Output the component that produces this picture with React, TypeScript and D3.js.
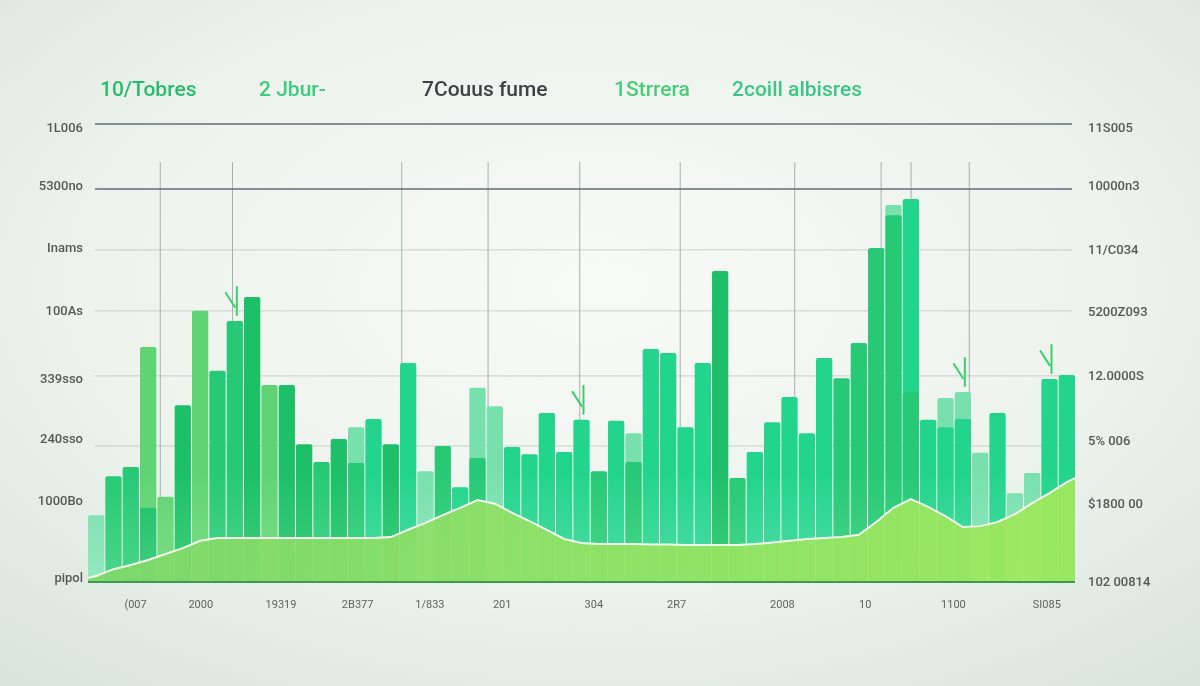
import React from 'react';
import * as d3 from 'd3';

const W = 1200;
const H = 686;

// ---- data ----
const legendLabels = ['10/Tobres', '2 Jbur-', '7Couus fume', '1Strrera', '2coill albisres'];
const legendColors = ['#2bbb6c', '#3ccd7c', '#3d4246', '#4acd78', '#3cc784'];

const leftTickLabels = ['1L006', '5300no', 'Inams', '100As', '339sso', '240sso', '1000Bo', 'pipol'];
const leftTickValues = [99.3, 86.5, 73.1, 59.2, 44.5, 31.4, 17.7, 0.9];
const rightTickLabels = ['11S005', '10000n3', '11/C034', '5200Z093', '12.0000S', '5% 006', '$1800 00', '102 00814'];
const rightTickValues = [99.3, 86.5, 72.7, 59.0, 45.0, 31.0, 17.2, 0.2];

const xTickLabels = ['(007', '2000', '19319', '2B377', '1/833', '201', '304', '2R7', '2008', '10', '1100', 'SI085'];
const xTickPos = [2.7, 6.4, 10.95, 15.3, 19.4, 23.5, 28.7, 33.4, 39.4, 44.1, 49.1, 54.4];

const gridMajor = [100, 85.8];
const gridMinor = [72.5, 59.2, 45.0, 29.7];
const gridVertical = [4.1, 8.2, 17.8, 22.7, 27.9, 33.6, 40.1, 45.0, 46.7, 50.0];

const barFront = [
  14.6, 23.1, 25.1, 16.2, 18.6, 38.6, 59.2, 46.1, 57.0, 62.2,
  43.0, 43.0, 30.1, 26.2, 31.2, 26.0, 35.6, 30.1, 47.8, 24.2,
  29.7, 20.7, 27.1, 38.4, 29.5, 27.9, 36.9, 28.4, 35.4, 24.2,
  35.2, 26.2, 50.9, 50.0, 33.8, 47.8, 67.9, 22.7, 28.4, 34.9,
  40.4, 32.5, 48.9, 44.5, 52.2, 72.9, 80.1, 41.5, 35.4, 33.8,
  35.6, 28.2, 36.9, 19.4, 23.8, 44.3, 45.2,
];
const barBack = [
  0, 0, 0, 51.3, 0, 0, 0, 0, 0, 0,
  0, 0, 0, 0, 0, 33.8, 0, 0, 0, 0,
  0, 0, 42.4, 0, 0, 0, 0, 0, 0, 0,
  0, 32.5, 0, 0, 0, 0, 0, 0, 0, 0,
  0, 0, 0, 0, 0, 0, 82.3, 83.6, 0, 40.2,
  41.5, 0, 0, 0, 0, 0, 0,
];
const frontShade = [
  4, 1, 1, 0, 2, 0, 2, 1, 1, 0,
  2, 0, 0, 1, 0, 1, 3, 0, 3, 4,
  1, 3, 1, 4, 3, 3, 3, 3, 3, 1,
  3, 1, 3, 3, 3, 3, 0, 1, 3, 3,
  3, 3, 3, 1, 1, 1, 1, 1, 3, 3,
  3, 4, 3, 4, 4, 3, 3,
];
const backShade = [
  0, 0, 0, 2, 0, 0, 0, 0, 0, 0,
  0, 0, 0, 0, 0, 4, 0, 0, 0, 0,
  0, 0, 4, 0, 0, 0, 0, 0, 0, 0,
  0, 4, 0, 0, 0, 0, 0, 0, 0, 0,
  0, 0, 0, 0, 0, 0, 4, 3, 0, 4,
  4, 0, 0, 0, 0, 0, 0,
];
const areaValues = [
  1.3, 2.8, 3.7, 4.8, 6.1, 7.4, 9.0, 9.6, 9.6, 9.6,
  9.6, 9.6, 9.6, 9.6, 9.6, 9.6, 9.6, 9.8, 11.4, 12.9,
  14.6, 16.2, 17.9, 17.1, 15.1, 13.3, 11.4, 9.4, 8.5, 8.3,
  8.3, 8.3, 8.2, 8.2, 8.1, 8.1, 8.1, 8.1, 8.3, 8.6,
  9.0, 9.4, 9.6, 9.8, 10.3, 13.1, 16.2, 18.1, 16.4, 14.4,
  12.0, 12.2, 13.1, 14.8, 17.2, 19.4, 21.8,
];
const areaStart = 0.9;
const areaEnd = 22.7;
const markerBars = [8, 28, 50, 55];

// ---- style ----
const shadeTop = ['#1dbf68', '#27c976', '#5fd474', '#22d48c', '#78e0ad'];
const shadeBottom = ['#3fcf7e', '#4ad68a', '#7ede86', '#4fdda4', '#95e8c0'];

export default function App() {
  const plotL = 88;
  const plotR = 1075;
  const y = d3.scaleLinear().domain([0, 100]).range([582, 124]);
  const idx = d3.range(barFront.length);
  const x = d3.scaleBand<number>().domain(idx).range([plotL, plotR]).paddingInner(0.06);
  const xl = d3.scaleLinear().domain([0, 56]).range([plotL, plotR]);

  const areaPts: [number, number][] = [
    [plotL, areaStart],
    ...idx.map((i) => [(x(i) as number) + x.bandwidth() / 2, areaValues[i]] as [number, number]),
    [plotR, areaEnd],
  ];
  const area = d3
    .area<[number, number]>()
    .x((d) => d[0])
    .y0(y(0))
    .y1((d) => y(d[1]));
  const line = d3
    .line<[number, number]>()
    .x((d) => d[0])
    .y((d) => y(d[1]));

  const font = 'Roboto, "Noto Sans", sans-serif';
  const legendX = [100, 259, 422, 614, 732];

  return (
    <svg
      width={W}
      height={H}
      viewBox={`0 0 ${W} ${H}`}
      style={{ position: 'fixed', left: 0, top: 0 }}
    >
      <defs>
        <radialGradient id="bg" cx="50%" cy="42%" r="75%">
          <stop offset="0%" stopColor="#f8faf7" />
          <stop offset="55%" stopColor="#eef3ee" />
          <stop offset="100%" stopColor="#d9e5dc" />
        </radialGradient>
        {shadeTop.map((c, i) => (
          <linearGradient key={i} id={`sh${i}`} gradientUnits="userSpaceOnUse" x1="0" y1={y(100)} x2="0" y2={y(0)}>
            <stop offset="0%" stopColor={c} />
            <stop offset="76%" stopColor={c} />
            <stop offset="100%" stopColor={shadeBottom[i]} />
          </linearGradient>
        ))}
        <linearGradient id="areaG" x1="0" y1="0" x2="1" y2="0">
          <stop offset="0%" stopColor="#7fd86a" />
          <stop offset="50%" stopColor="#93e264" />
          <stop offset="100%" stopColor="#9fe85c" />
        </linearGradient>
      </defs>
      <rect x={0} y={0} width={W} height={H} fill="url(#bg)" />

      {/* legend */}
      {legendLabels.map((t, i) => (
        <text
          key={t}
          x={legendX[i]}
          y={96}
          fill={legendColors[i]}
          fontFamily={font}
          fontSize={21}
          fontWeight={500}
        >
          {t}
        </text>
      ))}

      {/* grid */}
      {gridMinor.map((v) => (
        <line key={`gm${v}`} x1={95} x2={1072} y1={y(v)} y2={y(v)} stroke="#a7b1ab" strokeWidth={1} opacity={0.55} />
      ))}
      {gridVertical.map((v) => (
        <line key={`gv${v}`} x1={xl(v)} x2={xl(v)} y1={162} y2={y(10)} stroke="#8e9a96" strokeWidth={1} opacity={0.75} />
      ))}
      {gridMajor.map((v) => (
        <line key={`gM${v}`} x1={95} x2={1072} y1={y(v)} y2={y(v)} stroke="#5e6e7a" strokeWidth={1.5} />
      ))}

      {/* back bars */}
      {idx
        .filter((i) => barBack[i] > 0)
        .map((i) => (
          <rect
            key={`b${i}`}
            x={x(i)}
            y={y(barBack[i])}
            width={x.bandwidth()}
            height={y(0) - y(barBack[i])}
            rx={2}
            fill={`url(#sh${backShade[i]})`}
          />
        ))}
      {/* front bars */}
      {idx.map((i) => (
        <rect
          key={`f${i}`}
          x={x(i)}
          y={y(barFront[i])}
          width={x.bandwidth()}
          height={y(0) - y(barFront[i])}
          rx={2}
          fill={`url(#sh${frontShade[i]})`}
        />
      ))}

      {/* markers */}
      {markerBars.map((i) => {
        const cx = (x(i) as number) + x.bandwidth() / 2;
        const top = y(Math.max(barFront[i], barBack[i])) - 6;
        return (
          <path
            key={`m${i}`}
            d={`M${cx - 9},${top - 22} L${cx},${top - 8} M${cx + 2},${top - 28} L${cx + 2},${top}`}
            stroke="#3ccf6e"
            strokeWidth={2}
            fill="none"
            strokeLinecap="round"
          />
        );
      })}

      {/* area */}
      <path d={area(areaPts) || ''} fill="url(#areaG)" opacity={0.93} />
      <path d={line(areaPts) || ''} fill="none" stroke="#f1fdec" strokeWidth={2} />
      <line x1={plotL} x2={plotR} y1={y(0)} y2={y(0)} stroke="#3c9a52" strokeWidth={2} />

      {/* left ticks */}
      {leftTickLabels.map((t, i) => (
        <text
          key={`l${i}`}
          x={83}
          y={y(leftTickValues[i])}
          dy="0.35em"
          textAnchor="end"
          fill="#545a57"
          fontFamily={font}
          fontSize={13}
          fontWeight={500}
        >
          {t}
        </text>
      ))}
      {/* right ticks */}
      {rightTickLabels.map((t, i) => (
        <text
          key={`r${i}`}
          x={1088}
          y={y(rightTickValues[i])}
          dy="0.35em"
          textAnchor="start"
          fill="#545a57"
          fontFamily={font}
          fontSize={13}
          fontWeight={500}
        >
          {t}
        </text>
      ))}
      {/* x ticks */}
      {xTickLabels.map((t, i) => (
        <text
          key={`x${i}`}
          x={xl(xTickPos[i])}
          y={604}
          dy="0.35em"
          textAnchor="middle"
          fill="#5f6461"
          fontFamily={font}
          fontSize={11}
        >
          {t}
        </text>
      ))}
    </svg>
  );
}
